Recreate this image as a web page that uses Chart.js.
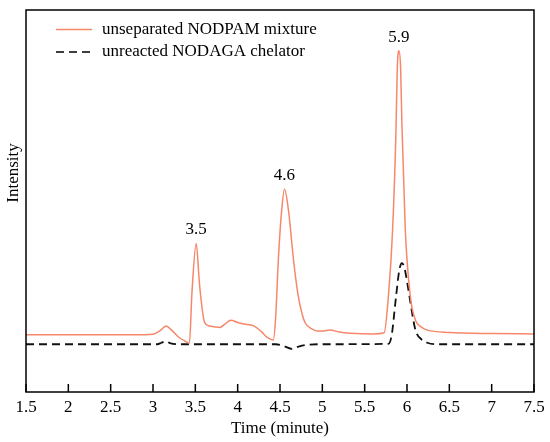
<!DOCTYPE html>
<html>
<head>
<meta charset="utf-8">
<script src="https://cdn.jsdelivr.net/npm/chart.js@4"></script>
<style>
  html, body { margin: 0; padding: 0; background: #fff; }
  #wrap { width: 550px; height: 442px; }
</style>
</head>
<body>
<div id="wrap"><canvas id="hplc"></canvas></div>
<script>
// retention time (minute) / intensity
const mixTime = [1.5, 2.9, 3.0, 3.08, 3.155, 3.22, 3.3, 3.38, 3.43, 3.46, 3.51, 3.55, 3.6, 3.64, 3.72, 3.79, 3.85, 3.92, 4.0, 4.07, 4.19, 4.28, 4.35, 4.42, 4.45, 4.48, 4.52, 4.553, 4.6, 4.66, 4.71, 4.76, 4.8, 4.87, 4.94, 5.02, 5.09, 5.2, 5.33, 5.6, 5.73, 5.78, 5.83, 5.87, 5.885, 5.905, 5.925, 5.94, 5.98, 6.04, 6.1, 6.17, 6.24, 6.5, 7.0, 7.5];
const mixValue = [15.0, 15.0, 15.1, 16.0, 17.3, 16.2, 14.4, 13.3, 12.8, 26, 38.9, 28, 19, 17.5, 17.1, 16.9, 17.8, 18.8, 18.2, 17.8, 17.3, 15.8, 14.3, 13.6, 20, 34.5, 47.6, 53.1, 47.6, 34.5, 25.9, 20.5, 18, 16.6, 16.0, 16.0, 16.2, 15.7, 15.4, 15.2, 15.5, 25, 42.4, 68.6, 84.5, 89.3, 84.5, 70, 42.4, 24.9, 18.8, 17.0, 16.2, 15.6, 15.3, 15.2];

const chelTime = [1.5, 3.05, 3.1, 3.15, 3.2, 3.3, 4.45, 4.55, 4.64, 4.72, 4.8, 5.0, 5.78, 5.82, 5.87, 5.91, 5.94, 5.97, 6.0, 6.03, 6.1, 6.17, 6.24, 6.35, 7.5];
const chelValue = [12.5, 12.5, 12.9, 13.3, 12.8, 12.5, 12.5, 12.0, 11.3, 11.9, 12.3, 12.5, 12.6, 15, 24.9, 32, 33.7, 32.5, 29, 24.9, 16.2, 13.8, 12.9, 12.5, 12.5];

const peakTime = [3.51, 4.553, 5.905];
const peakValue = [38.9, 53.1, 89.3];
const peakLabel = ["3.5", "4.6", "5.9"];

const xTicks = [1.5, 2, 2.5, 3, 3.5, 4, 4.5, 5, 5.5, 6, 6.5, 7, 7.5];

const seriesNames = ["unseparated NODPAM mixture", "unreacted NODAGA chelator"];
const orange = "#F7876A";
const serif = "'Liberation Serif', 'DejaVu Serif', serif";

function toPoints(xs, ys) {
  return xs.map((x, i) => ({ x: x, y: ys[i] }));
}

const framePlugin = {
  id: "frame",
  afterDraw(chart) {
    const ctx = chart.ctx;
    const a = chart.chartArea;
    const xs = chart.scales.x;
    const ys = chart.scales.y;
    ctx.save();
    // box
    ctx.strokeStyle = "#000";
    ctx.lineWidth = 1.5;
    ctx.strokeRect(a.left, a.top, a.right - a.left, a.bottom - a.top);
    // inward ticks + labels
    ctx.fillStyle = "#000";
    ctx.font = "17px " + serif;
    ctx.textAlign = "center";
    ctx.textBaseline = "middle";
    xTicks.forEach((t) => {
      const px = xs.getPixelForValue(t);
      ctx.beginPath();
      ctx.moveTo(px, a.bottom);
      ctx.lineTo(px, a.bottom - 8);
      ctx.stroke();
      ctx.fillText(String(t), px, a.bottom + 16);
    });
    ctx.fillText("Time (minute)", (a.left + a.right) / 2, a.bottom + 37);
    // y title
    ctx.save();
    ctx.translate(14, 173);
    ctx.rotate(-Math.PI / 2);
    ctx.fillText("Intensity", 0, 0);
    ctx.restore();
    // peak labels
    ctx.textBaseline = "bottom";
    peakTime.forEach((t, i) => {
      ctx.fillText(peakLabel[i], xs.getPixelForValue(t), ys.getPixelForValue(peakValue[i]) - 5);
    });
    // legend
    ctx.textAlign = "left";
    ctx.textBaseline = "middle";
    ctx.lineWidth = 1.5;
    ctx.strokeStyle = orange;
    ctx.beginPath();
    ctx.moveTo(56, 29.5);
    ctx.lineTo(92, 29.5);
    ctx.stroke();
    ctx.strokeStyle = "#000";
    ctx.setLineDash([8, 5]);
    ctx.beginPath();
    ctx.moveTo(56, 52);
    ctx.lineTo(92, 52);
    ctx.stroke();
    ctx.setLineDash([]);
    ctx.fillText(seriesNames[0], 102, 30);
    ctx.fillText(seriesNames[1], 102, 52);
    ctx.restore();
  },
};

new Chart(document.getElementById("hplc"), {
  type: "line",
  data: {
    datasets: [
      {
        label: seriesNames[0],
        data: toPoints(mixTime, mixValue),
        borderColor: orange,
        borderWidth: 1.5,
        pointRadius: 0,
        cubicInterpolationMode: "monotone",
        fill: false,
      },
      {
        label: seriesNames[1],
        data: toPoints(chelTime, chelValue),
        borderColor: "#111",
        borderWidth: 1.8,
        borderDash: [8, 5],
        pointRadius: 0,
        cubicInterpolationMode: "monotone",
        fill: false,
      },
    ],
  },
  options: {
    responsive: true,
    maintainAspectRatio: false,
    animation: false,
    layout: { padding: { left: 26, right: 16, top: 10, bottom: 50 } },
    plugins: { legend: { display: false }, tooltip: { enabled: false } },
    scales: {
      x: { type: "linear", min: 1.5, max: 7.5, display: false },
      y: { min: 0, max: 100, display: false },
    },
  },
  plugins: [framePlugin],
});
</script>
</body>
</html>
